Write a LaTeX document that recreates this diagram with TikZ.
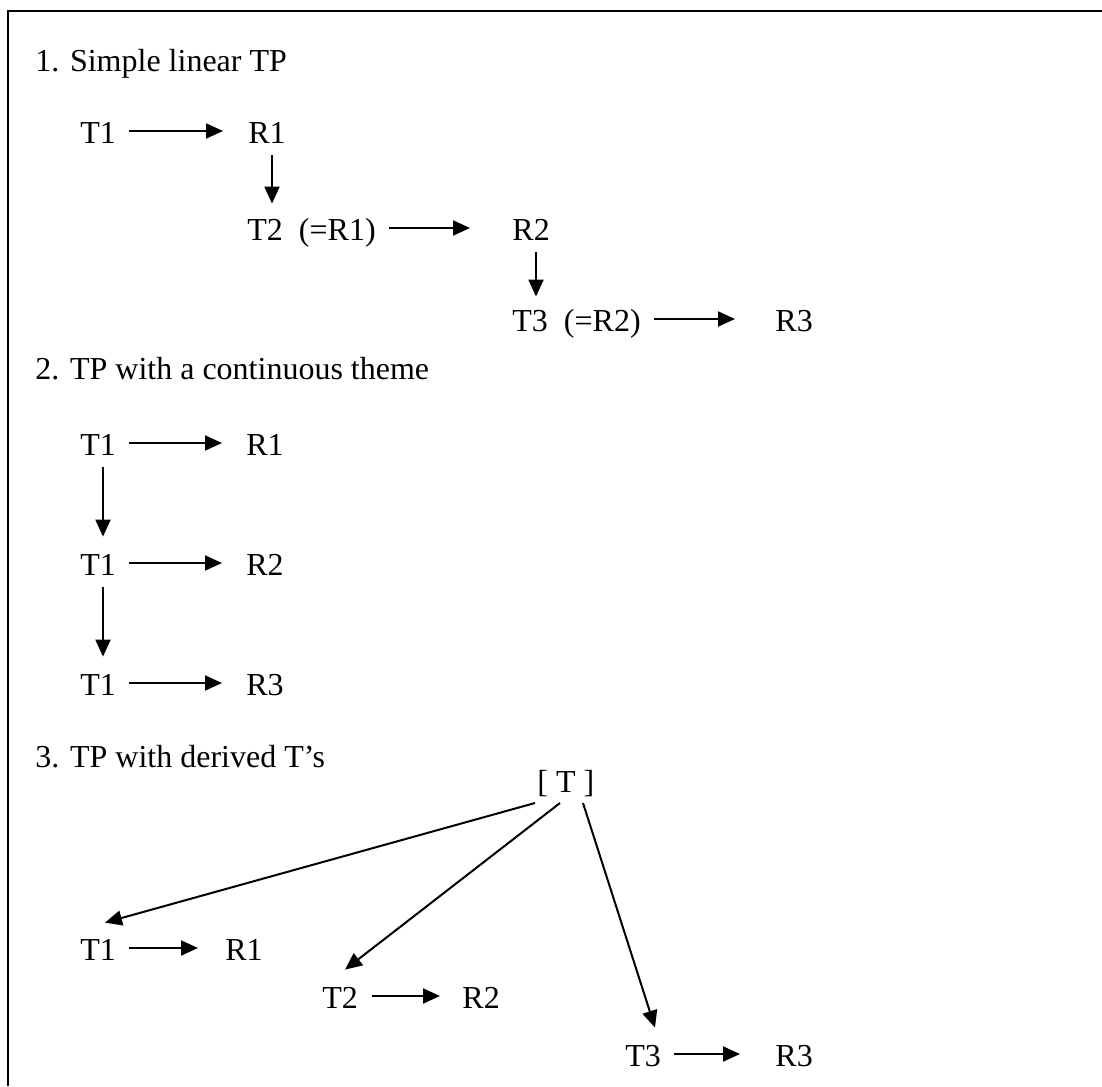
\documentclass[tikz,border=0pt]{standalone}
\usepackage{fontspec}
\setmainfont{Liberation Serif}
\usetikzlibrary{arrows.meta}
\begin{document}
\begin{tikzpicture}[x=0.5pt,y=-0.5pt,
  lbl/.style={anchor=base west, inner sep=0pt, font=\fontsize{16}{19}\selectfont, text height=12pt, text depth=0pt},
  arr/.style={-{Triangle[length=8.5pt,width=7.5pt]}, line width=1pt},
  frame/.style={line width=1pt}
]
\useasboundingbox (0,0) rectangle (1102,1086);
\draw[frame] (8,1086) -- (8,11.5) -- (1102,11.5);

% Section 1
\node[lbl] (h1) at (35,72) {1. Simple linear TP};
\node[lbl] (a1) at (80,143) {T1};
\node[lbl] (a2) at (248,143) {R1};
\node[lbl] (a3) at (247,240) {T2\ \ (=R1)};
\node[lbl] (a4) at (512,240) {R2};
\node[lbl] (a5) at (512,331) {T3\ \ (=R2)};
\node[lbl] (a6) at (775,331) {R3};
\draw[arr, shorten <=6.5pt, shorten >=12.5pt] (a1.east) -- (a2.west);
\draw[arr, shorten <=6.5pt, shorten >=21pt] (a3.east) -- (a4.west);
\draw[arr, shorten <=6.5pt, shorten >=20pt] (a5.east) -- (a6.west);
\coordinate (v1) at ([xshift=12pt]a2.south west);
\draw[arr, shorten <=6pt, shorten >=6pt] (v1) -- (v1 |- a3.north);
\coordinate (v2) at ([xshift=12pt]a4.south west);
\draw[arr, shorten <=6pt, shorten >=5pt] (v2) -- (v2 |- a5.north);

% Section 2
\node[lbl] (h2) at (35,379) {2. TP with a continuous theme};
\node[lbl] (b1) at (80,455) {T1};
\node[lbl] (b2) at (246,455) {R1};
\node[lbl] (b3) at (80,575) {T1};
\node[lbl] (b4) at (246,575) {R2};
\node[lbl] (b5) at (80,695) {T1};
\node[lbl] (b6) at (246,695) {R3};
\draw[arr, shorten <=6.5pt, shorten >=12pt] (b1.east) -- (b2.west);
\draw[arr, shorten <=6.5pt, shorten >=12pt] (b3.east) -- (b4.west);
\draw[arr, shorten <=6.5pt, shorten >=12pt] (b5.east) -- (b6.west);
\coordinate (w1) at ([xshift=11.5pt]b1.south west);
\draw[arr, shorten <=6pt, shorten >=7pt] (w1) -- (w1 |- b3.north);
\coordinate (w2) at ([xshift=11.5pt]b3.south west);
\draw[arr, shorten <=6pt, shorten >=7pt] (w2) -- (w2 |- b5.north);

% Section 3
\node[lbl] (h3) at (35,767) {3. TP with derived T’s};
\node[lbl] (top) at (537,792) {[ T ]};
\node[lbl] (c1) at (80,960) {T1};
\node[lbl] (c2) at (225,960) {R1};
\node[lbl] (c3) at (322,1008) {T2};
\node[lbl] (c4) at (462,1008) {R2};
\node[lbl] (c5) at (625,1066) {T3};
\node[lbl] (c6) at (775,1066) {R3};
\draw[arr, shorten <=6.5pt, shorten >=13.5pt] (c1.east) -- (c2.west);
\draw[arr, shorten <=7pt, shorten >=11pt] (c3.east) -- (c4.west);
\draw[arr, shorten <=6.5pt, shorten >=17.5pt] (c5.east) -- (c6.west);
\coordinate (s1) at ([shift={(-1pt,-5.5pt)}]top.base west);
\coordinate (s2) at ([shift={(11.5pt,-5.5pt)}]top.base west);
\coordinate (s3) at ([shift={(23pt,-5.5pt)}]top.base west);
\coordinate (e1) at ([shift={(12.5pt,6.5pt)}]c1.north west);
\coordinate (e2) at ([shift={(11.5pt,7pt)}]c3.north west);
\coordinate (e3) at ([shift={(15pt,7pt)}]c5.north west);
\draw[arr] (s1) -- (e1);
\draw[arr] (s2) -- (e2);
\draw[arr] (s3) -- (e3);
\end{tikzpicture}
\end{document}
